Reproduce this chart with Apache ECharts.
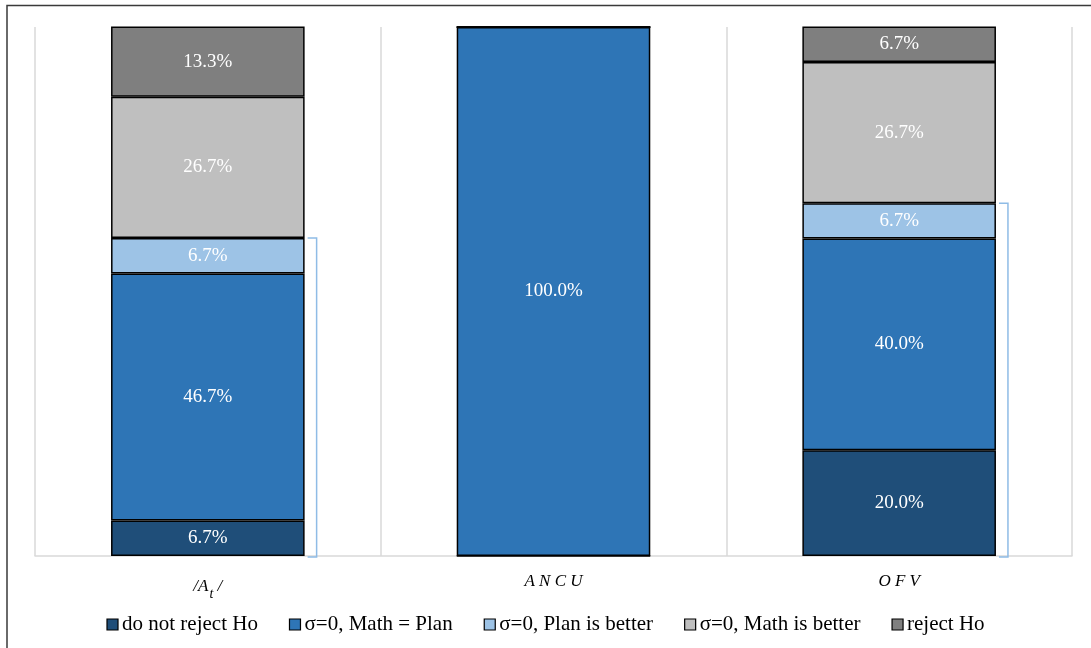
<!DOCTYPE html>
<html>
<head>
<meta charset="utf-8">
<script src="https://cdn.jsdelivr.net/npm/echarts@6/dist/echarts.min.js"></script>
<style>
  html, body { margin: 0; padding: 0; background: #fff; }
  #chart { width: 1091px; height: 648px; }
</style>
</head>
<body>
<div id="chart"></div>
<script>
// categorías y series (porcentajes)
const categorias = ['At', 'ANCU', 'OFV'];
const nombresSeries = ['do not reject Ho', 'σ=0, Math = Plan', 'σ=0, Plan is better', 'σ=0, Math is better', 'reject Ho'];
const noRechazar = [6.7, 0, 20.0];
const mathIgualPlan = [46.7, 100.0, 40.0];
const planMejor = [6.7, 0, 6.7];
const mathMejor = [26.7, 0, 26.7];
const rechazar = [13.3, 0, 6.7];
// corchetes de selección: [categoría, desde, hasta]
const corchetes = [[0, 0, 60.1], [2, 0, 66.7]];

const colores = ['#1f4e79', '#2e75b6', '#9dc3e6', '#bfbfbf', '#7f7f7f'];
const valores = [noRechazar, mathIgualPlan, planMejor, mathMejor, rechazar];
const fuente = '"Liberation Serif", "Times New Roman", serif';

const chart = echarts.init(document.getElementById('chart'));

const series = nombresSeries.map((nombre, i) => ({
  name: nombre,
  type: 'bar',
  stack: 'total',
  barWidth: '56%',
  data: valores[i],
  itemStyle: { color: colores[i], borderColor: '#000', borderWidth: 1.5 },
  label: {
    show: true,
    position: 'inside',
    color: '#fff',
    fontFamily: fuente,
    fontSize: 19,
    formatter: p => (p.value > 0 ? p.value.toFixed(1) + '%' : '')
  }
}));

series.push({
  type: 'custom',
  silent: true,
  z: 1,
  data: corchetes,
  renderItem: (params, api) => {
    const abajo = api.coord([api.value(0), api.value(1)]);
    const arriba = api.coord([api.value(0), api.value(2)]);
    const ancho = api.size([1, 0])[0] * 0.56 / 2;
    const x = abajo[0] + ancho + 12;
    return {
      type: 'polyline',
      shape: { points: [[x - 9, arriba[1]], [x, arriba[1]], [x, abajo[1] + 1], [x - 9, abajo[1] + 1]] },
      style: { stroke: '#8fbce6', lineWidth: 1.5, fill: null }
    };
  }
});

chart.setOption({
  animation: false,
  graphic: [{
    type: 'rect',
    shape: { x: 7, y: 5.5, width: 1200, height: 800 },
    style: { fill: null, stroke: '#3a3a3a', lineWidth: 1.5 },
    silent: true
  }],
  grid: { left: 35, right: 19, top: 27, bottom: 92 },
  legend: {
    bottom: 8,
    left: 'center',
    data: nombresSeries,
    icon: 'rect',
    itemWidth: 11,
    itemHeight: 11,
    itemGap: 31,
    itemStyle: { borderColor: '#000', borderWidth: 1.2 },
    textStyle: { fontFamily: fuente, fontSize: 21, color: '#000', padding: [0, 0, 0, -1] }
  },
  xAxis: {
    type: 'category',
    data: categorias,
    axisLine: { lineStyle: { color: '#d9d9d9', width: 1.5 } },
    axisTick: { show: false },
    splitLine: { show: true, lineStyle: { color: '#d9d9d9', width: 1.5 } },
    axisLabel: {
      margin: 17,
      fontFamily: fuente,
      fontStyle: 'italic',
      fontSize: 17,
      color: '#000',
      formatter: v => {
        if (v === 'At') return '/{a|A}{s|t} /';
        return v.split('').join(' ');
      },
      rich: {
        a: { fontFamily: fuente, fontStyle: 'italic', fontSize: 17, color: '#000' },
        s: { fontFamily: fuente, fontStyle: 'italic', fontSize: 14, color: '#000', padding: [14, 0, 0, 1] }
      }
    }
  },
  yAxis: {
    type: 'value',
    min: 0,
    max: 100,
    show: false,
    splitLine: { show: false }
  },
  series: series
});
</script>
</body>
</html>
